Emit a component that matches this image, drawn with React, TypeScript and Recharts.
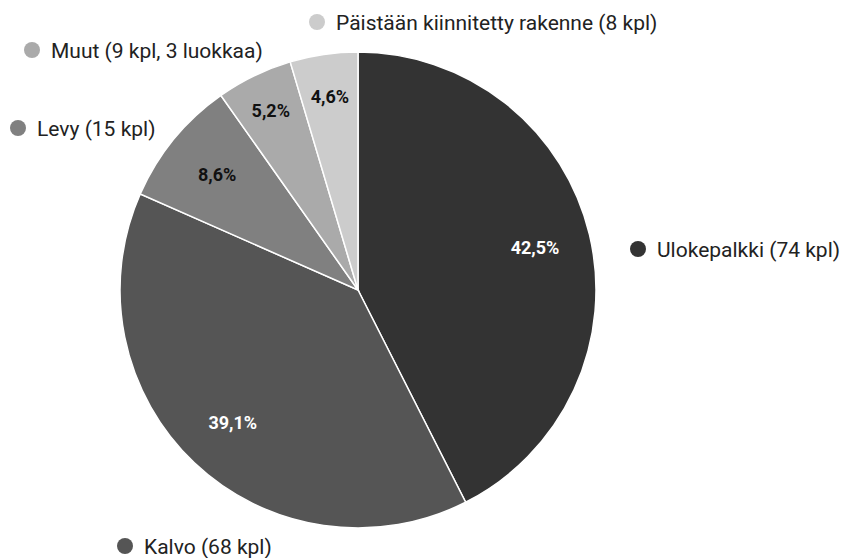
import { PieChart, Pie, Cell } from 'recharts';

const categories = ['Ulokepalkki', 'Kalvo', 'Levy', 'Muut', 'Päistään kiinnitetty rakenne'];
const counts = [74, 68, 15, 9, 8];
const legendTexts = [
  'Ulokepalkki (74 kpl)',
  'Kalvo (68 kpl)',
  'Levy (15 kpl)',
  'Muut (9 kpl, 3 luokkaa)',
  'Päistään kiinnitetty rakenne (8 kpl)',
];

const COLORS = ['#333333', '#555555', '#808080', '#aaaaaa', '#cccccc'];
const PCT_COLORS = ['#ffffff', '#ffffff', '#111111', '#111111', '#111111'];
// where the outside labels sit (dot centre)
const OUTER_POS = [
  { x: 638, y: 249 },
  { x: 125, y: 546 },
  { x: 18, y: 128 },
  { x: 32, y: 50 },
  { x: 317, y: 22 },
];
const PCT_RADIUS = [0.765, 0.765, 0.765, 0.84, 0.82];

const data = categories.map((name, i) => ({ name, value: counts[i] }));

const RADIAN = Math.PI / 180;

const renderLabel = (props: any) => {
  const { cx, cy, midAngle, outerRadius, percent, index } = props;
  const r = outerRadius * PCT_RADIUS[index];
  const x = cx + r * Math.cos(-midAngle * RADIAN);
  const y = cy + r * Math.sin(-midAngle * RADIAN);
  const pos = OUTER_POS[index];
  return (
    <g>
      <text
        x={x}
        y={y}
        fill={PCT_COLORS[index]}
        textAnchor="middle"
        dominantBaseline="central"
        fontSize={18}
        fontWeight={700}
      >
        {(percent * 100).toFixed(1).replace('.', ',') + '%'}
      </text>
      <circle cx={pos.x} cy={pos.y} r={8} fill={COLORS[index]} />
      <text x={pos.x + 19} y={pos.y + 1} fill="#222222" fontSize={21} dominantBaseline="central">
        {legendTexts[index]}
      </text>
    </g>
  );
};

export default function App() {
  return (
    <div style={{ position: 'absolute', left: 0, top: 0, width: 843, height: 558, background: '#fff', fontFamily: 'Roboto, sans-serif' }}>
      <PieChart width={843} height={558} margin={{ top: 0, right: 0, bottom: 0, left: 0 }}>
        <Pie
          data={data}
          dataKey="value"
          nameKey="name"
          cx={358}
          cy={290}
          outerRadius={238}
          startAngle={90}
          endAngle={-270}
          stroke="#ffffff"
          strokeWidth={1.5}
          label={renderLabel}
          labelLine={false}
          isAnimationActive={false}
        >
          {data.map((d, i) => (
            <Cell key={d.name} fill={COLORS[i]} />
          ))}
        </Pie>
      </PieChart>
    </div>
  );
}
